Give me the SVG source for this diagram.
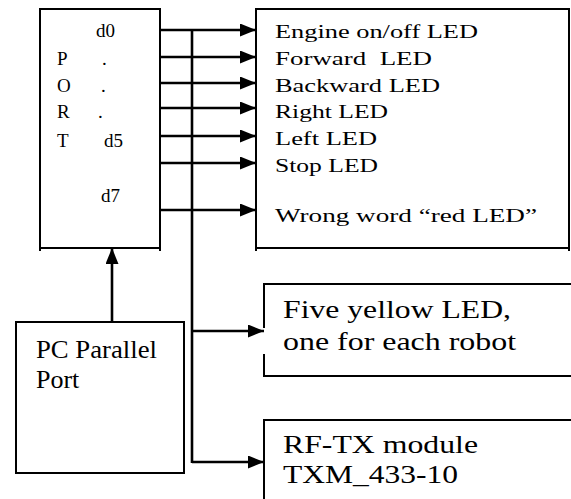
<svg xmlns="http://www.w3.org/2000/svg" width="571" height="499" viewBox="0 0 571 499">
<style>
.box{fill:none;stroke:#000;stroke-width:2}
.ln{fill:none;stroke:#000;stroke-width:2.6}
.t{font-family:"Liberation Serif","Times New Roman",serif;fill:#000}
.s20{font-size:19px}
.s26{font-size:26px}
</style>
<defs>
<marker id="ah" markerWidth="16" markerHeight="13" refX="16" refY="6.5" orient="auto" markerUnits="userSpaceOnUse">
<path d="M0,0 L16,6.5 L0,13 Z" fill="#000"/>
</marker>
</defs>
<rect width="571" height="499" fill="#fff"/>
<g id="port">
<path class="box" d="M40,251 V9 H160 V251 M40,248 H160"/>
<text class="t s20" x="96" y="37">d0</text>
<text class="t s20" x="57" y="65">P</text>
<text class="t s20" x="57" y="92">O</text>
<text class="t s20" x="57" y="118">R</text>
<text class="t s20" x="57" y="147">T</text>
<text class="t s20" x="102" y="65">.</text>
<text class="t s20" x="101" y="92">.</text>
<text class="t s20" x="98" y="118">.</text>
<text class="t s20" x="104" y="147">d5</text>
<text class="t s20" x="101" y="202">d7</text>
</g>
<g id="leds">
<path class="box" d="M256,251 V9 H569 V251 M256,248 H569"/>
<text class="t s20" x="275" y="38" textLength="203" lengthAdjust="spacingAndGlyphs">Engine on/off LED</text>
<text class="t s20" x="275" y="65" textLength="157" lengthAdjust="spacingAndGlyphs" xml:space="preserve">Forward  LED</text>
<text class="t s20" x="275" y="92" textLength="165" lengthAdjust="spacingAndGlyphs">Backward LED</text>
<text class="t s20" x="275" y="118" textLength="113" lengthAdjust="spacingAndGlyphs">Right LED</text>
<text class="t s20" x="275" y="145" textLength="102" lengthAdjust="spacingAndGlyphs">Left LED</text>
<text class="t s20" x="275" y="172" textLength="103" lengthAdjust="spacingAndGlyphs">Stop LED</text>
<text class="t s20" x="275" y="222" textLength="262" lengthAdjust="spacingAndGlyphs">Wrong word “red LED”</text>
</g>
<g id="yellow">
<path class="box" d="M571,284 H264 V328 M264,354 V376 H571"/>
<text class="t s26" x="283" y="318" textLength="228" lengthAdjust="spacingAndGlyphs">Five yellow LED,</text>
<text class="t s26" x="283" y="350" textLength="233" lengthAdjust="spacingAndGlyphs">one for each robot</text>
</g>
<g id="rftx">
<path class="box" d="M571,420 H264 V499"/>
<text class="t s26" x="283" y="453" textLength="195" lengthAdjust="spacingAndGlyphs">RF-TX module</text>
<text class="t s26" x="283" y="483" textLength="175" lengthAdjust="spacingAndGlyphs">TXM_433-10</text>
</g>
<g id="pc">
<rect class="box" x="16" y="322" width="168" height="151"/>
<text class="t s26" x="36" y="358" textLength="121" lengthAdjust="spacingAndGlyphs">PC Parallel</text>
<text class="t s26" x="36" y="388">Port</text>
</g>
<g id="connectors">
<line class="ln" x1="160" y1="30" x2="256" y2="30" marker-end="url(#ah)"/>
<line class="ln" x1="160" y1="57" x2="256" y2="57" marker-end="url(#ah)"/>
<line class="ln" x1="160" y1="83" x2="256" y2="83" marker-end="url(#ah)"/>
<line class="ln" x1="160" y1="108" x2="256" y2="108" marker-end="url(#ah)"/>
<line class="ln" x1="160" y1="136" x2="256" y2="136" marker-end="url(#ah)"/>
<line class="ln" x1="160" y1="163" x2="256" y2="163" marker-end="url(#ah)"/>
<line class="ln" x1="160" y1="210" x2="256" y2="210" marker-end="url(#ah)"/>
<line class="ln" x1="192" y1="30" x2="192" y2="463" stroke-width="2"/>
<line class="ln" x1="192" y1="331" x2="264" y2="331" stroke-width="4" marker-end="url(#ah)"/>
<line class="ln" x1="192" y1="462" x2="264" y2="462" stroke-width="3" marker-end="url(#ah)"/>
<line class="ln" x1="112" y1="322" x2="112" y2="248" marker-end="url(#ah)"/>
</g>
</svg>
